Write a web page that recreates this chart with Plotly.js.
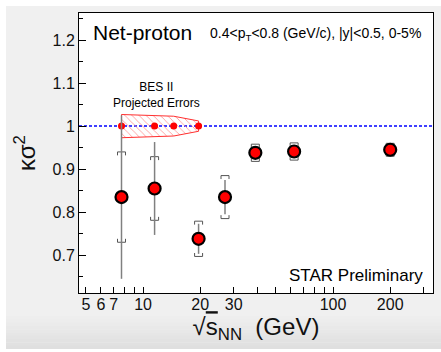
<!DOCTYPE html>
<html>
<head>
<meta charset="utf-8">
<script src="https://cdn.plot.ly/plotly-3.0.1.min.js"></script>
<style>html,body{margin:0;padding:0;background:#ffffff;}#chart{width:441px;height:352px;}</style>
</head>
<body>
<div id="chart"></div>
<script>
// ---- data ----
const energies = [7.7, 11.5, 19.6, 27, 39, 62.4, 200];
const kappaSigma2 = [0.835, 0.855, 0.738, 0.835, 0.938, 0.941, 0.945];
const statErr = [0.19, 0.108, 0.035, 0.04, 0.01, 0.01, 0.01];
const sysErr = [0.105, 0.074, 0.041, 0.05, 0.02, 0.02, 0.015];

const besEnergies = [7.7, 11.5, 14.5, 19.6];
const besValue = [1.0, 1.0, 1.0, 1.0];
const besErr = [0.027, 0.025, 0.023, 0.012];

const xTickVals = [5, 6, 7, 8, 9, 10, 20, 30, 40, 50, 60, 70, 80, 90, 100, 200, 300];
const xTickText = ['5', '6', '7', '', '', '10', '20', '30', '', '', '', '', '', '', '100', '200', ''];
const yTickVals = [0.7, 0.8, 0.9, 1.0, 1.1, 1.2];
const yTickText = ['0.7', '0.8', '0.9', '1', '1.1', '1.2'];
const yMinorVals = [0.65, 0.75, 0.85, 0.95, 1.05, 1.15, 1.25];

// ---- derived geometry ----
const FONT = 'Liberation Sans, Arial, sans-serif';
const bx = besEnergies.concat(besEnergies.slice().reverse());
const by = besValue.map((v, i) => v + besErr[i])
  .concat(besValue.map((v, i) => v - besErr[i]).reverse());
bx.push(bx[0]); by.push(by[0]);

// systematic brackets
const f = Math.pow(10, 4 / 190), tip = 0.008;
const brX = [], brY = [];
energies.forEach((x, i) => {
  const y = kappaSigma2[i], s = sysErr[i];
  brX.push(x / f, x / f, x * f, x * f, null);
  brY.push(y + s - tip, y + s, y + s, y + s - tip, null);
  brX.push(x / f, x / f, x * f, x * f, null);
  brY.push(y - s + tip, y - s, y - s, y - s + tip, null);
});

const traces = [
  { x: bx, y: by, mode: 'lines', fill: 'toself', line: { color: '#ff3030', width: 1 },
    fillcolor: 'rgba(0,0,0,0)',
    fillpattern: { shape: '\\', fgcolor: '#ff8a8a', bgcolor: 'rgba(0,0,0,0)', size: 5, solidity: 0.15 },
    hoverinfo: 'skip', showlegend: false },
  { x: besEnergies, y: besValue, mode: 'markers', marker: { color: '#ff0000', size: 7 },
    showlegend: false },
  { x: brX, y: brY, mode: 'lines', line: { color: '#555555', width: 1 }, connectgaps: false,
    hoverinfo: 'skip', showlegend: false },
  { x: energies, y: kappaSigma2, mode: 'markers',
    error_y: { type: 'data', array: statErr, visible: true, color: '#808080', thickness: 1.5, width: 0 },
    marker: { color: '#ff0000', size: 12, line: { color: '#000000', width: 2.2 } },
    showlegend: false }
];

// page decoration: white margins and bottom gradient (paper coords relative to plot area)
const PX = px => (px - 79) / 354, PY = py => (293 - py) / 280;
const shapes = [
  { type: 'line', xref: 'paper', x0: 0, x1: 1, yref: 'y', y0: 1, y1: 1,
    line: { color: '#0000ff', width: 1.5, dash: '3px,2px' }, layer: 'below' }
];
const gradSteps = 10;
for (let k = 0; k < gradSteps; k++) {
  const top = 316 + k * 3.3, bot = top + 3.5;
  const c = Math.round(240 - (k + 1) * 1.7);
  shapes.push({ type: 'rect', xref: 'paper', yref: 'paper',
    x0: PX(0), x1: PX(441), y0: PY(bot), y1: PY(top),
    fillcolor: `rgb(${c},${c},${c})`, line: { width: 0 }, layer: 'below' });
}
shapes.push({ type: 'rect', xref: 'paper', yref: 'paper', x0: PX(0), x1: PX(6), y0: PY(352), y1: PY(0),
  fillcolor: '#ffffff', line: { width: 0 }, layer: 'below' });
shapes.push({ type: 'rect', xref: 'paper', yref: 'paper', x0: PX(0), x1: PX(441), y0: PY(6), y1: PY(0),
  fillcolor: '#ffffff', line: { width: 0 }, layer: 'below' });
shapes.push({ type: 'rect', xref: 'paper', yref: 'paper', x0: PX(0), x1: PX(441), y0: PY(352), y1: PY(349),
  fillcolor: '#ffffff', line: { width: 0 }, layer: 'below' });

const layout = {
  width: 441, height: 352,
  margin: { l: 79, r: 8, t: 13, b: 59 },
  paper_bgcolor: '#f0f0f0', plot_bgcolor: '#ffffff',
  font: { family: FONT, color: '#000000' },
  showlegend: false,
  xaxis: {
    type: 'log', range: [Math.log10(4.6), Math.log10(336)],
    tickmode: 'array', tickvals: xTickVals, ticktext: xTickText,
    ticks: 'inside', ticklen: 6, tickcolor: '#000', tickwidth: 1,
    showline: true, linecolor: '#000', linewidth: 1, mirror: true,
    showgrid: false, zeroline: false, ticklabelstandoff: -3,
    tickfont: { family: FONT, size: 16, color: '#111' },
    title: { text: '√<span style="text-decoration:overline">s</span><sub>NN</sub>  (GeV)',
      font: { family: FONT, size: 24, color: '#111' }, standoff: 5 }
  },
  yaxis: {
    range: [0.612, 1.263],
    tickmode: 'array', tickvals: yTickVals, ticktext: yTickText,
    ticks: 'inside', ticklen: 7, tickcolor: '#000', tickwidth: 1,
    minor: { tickvals: yMinorVals, ticks: 'inside', ticklen: 4, tickcolor: '#000', showgrid: false },
    showline: true, linecolor: '#000', linewidth: 1, mirror: true,
    showgrid: false, zeroline: false,
    tickfont: { family: FONT, size: 16, color: '#111' },
    title: { text: 'κσ<sup>2</sup>', font: { family: FONT, size: 24, color: '#111' }, standoff: 10 }
  },
  shapes: shapes,
  annotations: [
    { text: 'Net-proton', xref: 'paper', yref: 'paper', x: 0.034, y: 0.932,
      xanchor: 'left', yanchor: 'middle', showarrow: false,
      font: { family: FONT, size: 21, color: '#000' } },
    { text: '0.4&lt;p<sub>T</sub>&lt;0.8 (GeV/c), |y|&lt;0.5, 0-5%', xref: 'paper', yref: 'paper',
      x: 0.972, y: 0.925, xanchor: 'right', yanchor: 'middle', showarrow: false,
      font: { family: FONT, size: 14, color: '#000' } },
    { text: 'BES II<br>Projected Errors', xref: 'paper', yref: 'paper', x: 0.22, y: 0.707,
      xanchor: 'center', yanchor: 'middle', showarrow: false,
      font: { family: FONT, size: 12, color: '#000' } },
    { text: 'STAR Preliminary', xref: 'paper', yref: 'paper', x: 0.977, y: 0.064,
      xanchor: 'right', yanchor: 'middle', showarrow: false,
      font: { family: FONT, size: 17, color: '#000' } }
  ]
};

Plotly.newPlot('chart', traces, layout, { displayModeBar: false, staticPlot: true });
</script>
</body>
</html>
